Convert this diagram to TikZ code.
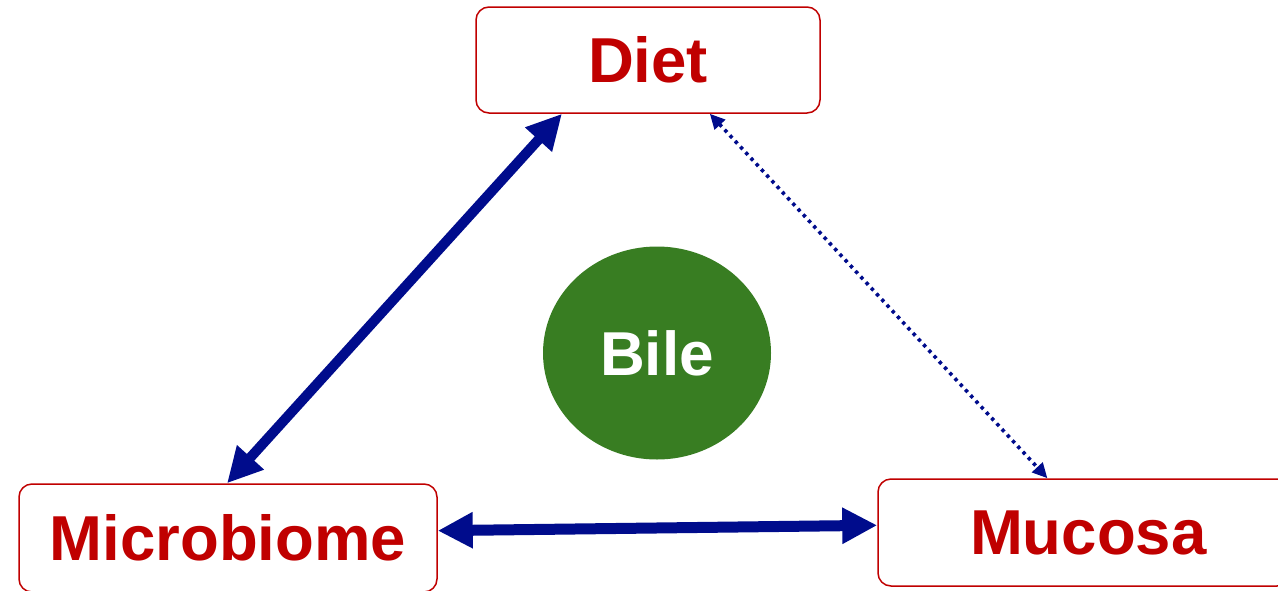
\documentclass[tikz,border=0pt]{standalone}
\usepackage{fontspec}
\setmainfont{Liberation Sans}
\usetikzlibrary{arrows.meta,shapes.geometric}
\definecolor{boxred}{RGB}{192,0,0}
\definecolor{navyarrow}{RGB}{0,12,140}
\definecolor{bilegreen}{RGB}{56,125,34}
\tikzset{
  termbox/.style={draw=boxred, line width=1.5pt, rounded corners=13pt, fill=white,
    text=boxred, font=\fontsize{63.5}{70}\selectfont\bfseries, inner sep=0pt},
  boldlink/.style={navyarrow, line width=10pt,
    {Triangle[length=35pt,width=34pt]}-{Triangle[length=35pt,width=34pt]}},
  dotlink/.style={navyarrow, line width=3.6pt, dash pattern=on 3.4pt off 4.3pt,
    {Triangle[length=15pt,width=14pt]}-{Triangle[length=15pt,width=14pt]}},
}
\begin{document}
\begin{tikzpicture}[x=1pt,y=-1pt]
\useasboundingbox (0,0) rectangle (1278,590);
\node[termbox, minimum width=344pt, minimum height=106pt] (diet) at (648,60) {Diet};
\node[termbox, minimum width=418pt, minimum height=108pt] (micro) at (228,538) {Microbiome};
\node[termbox, minimum width=412pt, minimum height=107pt, text width=412pt, align=left] (mucosa) at (1084,532.5) {\hspace*{92pt}Mucosa};
\node[ellipse, fill=bilegreen, minimum width=228pt, minimum height=213pt, inner sep=0pt,
  text=white, font=\fontsize{62}{70}\selectfont\bfseries] (bile) at (657,353) {Bile};
\draw[boldlink] (diet.212.56) -- (micro.91.06);
\draw[boldlink, line width=11pt] (micro.2.74) -- (mucosa.178.19);
\draw[dotlink] (diet.319.02) -- (mucosa.124.67);
\end{tikzpicture}
\end{document}
